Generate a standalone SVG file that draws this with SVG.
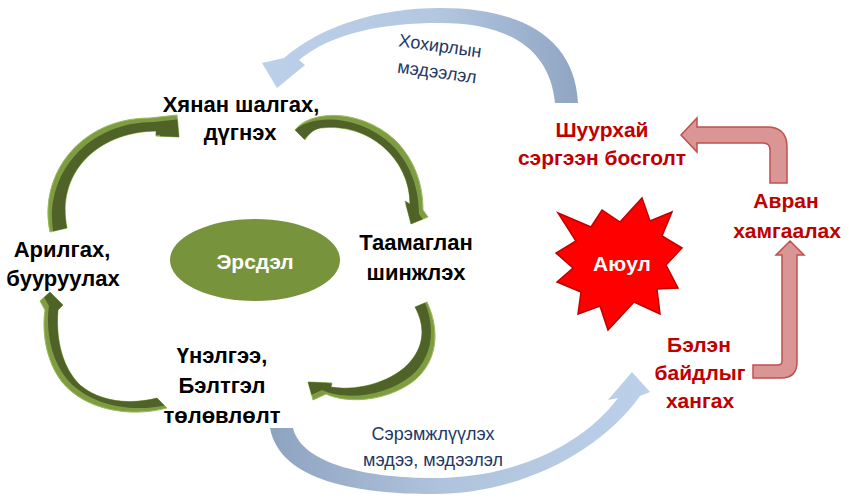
<svg xmlns="http://www.w3.org/2000/svg" width="849" height="500" viewBox="0 0 849 500">
<defs>
<linearGradient id="blueTop" x1="0" y1="0" x2="1" y2="0">
<stop offset="0" stop-color="#BCD0EA"/>
<stop offset="0.55" stop-color="#B3C7E0"/>
<stop offset="1" stop-color="#8FA5C2"/>
</linearGradient>
<linearGradient id="blueBot" x1="0" y1="0" x2="1" y2="0">
<stop offset="0" stop-color="#8EA3C0"/>
<stop offset="0.45" stop-color="#AFC3DC"/>
<stop offset="1" stop-color="#BCD0EA"/>
</linearGradient>
<path id="g1" d="M50,232 C38,175 80,118 150,118 L177,115 L179,137 L156,136 L156,131 C95,132 56,175 67,228 Z"/>
<path id="g2" d="M295,130 C310,110 360,108 395,140 C415,160 423,185 423,210 L428,217 L411,224 L405,201 L410,204 C410,160 370,122 320,128 C312,130 308,135 305,140 Z"/>
<path id="g3" d="M415,307 L427,302 C440,330 438,360 415,380 C390,400 350,405 326,394 L313,400 L308,382 L332,383 L331,387 C360,392 395,380 410,362 C425,345 425,325 415,307 Z"/>
<path id="g4" d="M157,398 L167,408 C130,418 85,410 62,382 C45,360 42,330 45,310 L40,301 L50,292 L63,305 L58,310 C56,335 60,365 80,385 C100,402 130,405 157,398 Z"/>
<clipPath id="c1"><use href="#g1"/></clipPath>
<clipPath id="c2"><use href="#g2"/></clipPath>
<clipPath id="c3"><use href="#g3"/></clipPath>
<clipPath id="c4"><use href="#g4"/></clipPath>
<style>
.blk{font-family:"Liberation Sans",Arial,sans-serif;font-weight:bold;font-size:22px;fill:#000;text-anchor:middle}
.red{font-family:"Liberation Sans",Arial,sans-serif;font-weight:bold;font-size:21px;fill:#C00000;text-anchor:middle}
.wht{font-family:"Liberation Sans",Arial,sans-serif;font-weight:bold;font-size:21px;fill:#fff;text-anchor:middle}
.blu{font-family:"Liberation Sans",Arial,sans-serif;font-size:18px;fill:#1F3864;text-anchor:middle}
.gl{fill:#7E9C42;stroke:#9BBB59;stroke-width:1;stroke-linejoin:round}
.gd{fill:#4F6228}
.redar{fill:#D99694;stroke:#C0504D;stroke-width:1.5;stroke-linejoin:miter}
</style>
</defs>
<rect width="849" height="500" fill="#fff"/>
<g id="connectors">
<path id="blue-top" fill="url(#blueTop)" d="M578,103 C575,40 525,8 440,8 C380,8 322,25 284,58 L262,63 L277,88 L305,65 L299,60 C332,33 382,23 440,23 C510,23 550,50 555,103 Z"/>
<path id="blue-bottom" fill="url(#blueBot)" d="M270,428 C280,482 360,494 433,494 C520,494 600,452 640,396 L650,392 L632,372 L608,400 L618,398 C585,442 520,478 433,478 C370,478 302,465 293,428 Z"/>
<g id="green-1"><use href="#g1" class="gl"/><g clip-path="url(#c1)"><use href="#g1" class="gd" transform="translate(4,4)"/></g></g>
<g id="green-2"><use href="#g2" class="gl"/><g clip-path="url(#c2)"><use href="#g2" class="gd" transform="translate(-4,4)"/></g></g>
<g id="green-3"><use href="#g3" class="gl"/><g clip-path="url(#c3)"><use href="#g3" class="gd" transform="translate(-4,-4)"/></g></g>
<g id="green-4"><use href="#g4" class="gl"/><g clip-path="url(#c4)"><use href="#g4" class="gd" transform="translate(4,-4)"/></g></g>
<path id="red-upper" class="redar" d="M697,127 L767,127 Q787,127 787,147 L787,183 L770,183 L770,150 Q770,143 763,143 L697,143 L697,152 L681,135 L697,118 Z"/>
<path id="red-lower" class="redar" d="M753,365 L778,365 Q782,365 782,361 L782,255 L776,255 L790,241 L804,255 L797,255 L797,362 Q797,378 781,378 L753,378 Z"/>
</g>
<g id="node-control">
<text class="blk" x="241" y="112">Хянан шалгах,</text>
<text class="blk" x="240" y="140">дүгнэх</text>
</g>
<g id="node-analysis">
<text class="blk" x="416" y="250">Таамаглан</text>
<text class="blk" x="416" y="280">шинжлэх</text>
</g>
<g id="node-eval">
<text class="blk" x="222" y="363">Үнэлгээ,</text>
<text class="blk" x="222" y="393">Бэлтгэл</text>
<text class="blk" x="222" y="423">төлөвлөлт</text>
</g>
<g id="node-reduce">
<text class="blk" x="62" y="257">Арилгах,</text>
<text class="blk" x="63" y="286">бууруулах</text>
</g>
<g id="node-risk">
<ellipse cx="255" cy="260" rx="85" ry="41" fill="#77933C"/>
<text class="wht" x="255" y="269">Эрсдэл</text>
</g>
<g id="node-hazard">
<polygon points="642,198 650,221 672,212 662,236 682,248 666,265 678,288 657,289 660,314 634,302 608,330 600,306 578,314 581,292 557,282 573,268 556,253 576,241 558,213 591,227 602,210 620,222" fill="#FF0000" stroke="#C00000" stroke-width="1.5"/>
<text class="wht" x="622" y="271">Аюул</text>
</g>
<g id="node-recovery">
<text class="red" x="602" y="137">Шуурхай</text>
<text class="red" x="602" y="165">сэргээн босголт</text>
</g>
<g id="node-rescue">
<text class="red" x="786" y="208">Авран</text>
<text class="red" x="787" y="238">хамгаалах</text>
</g>
<g id="node-ready">
<text class="red" x="699" y="352">Бэлэн</text>
<text class="red" x="700" y="380">байдлыг</text>
<text class="red" x="700" y="408">хангах</text>
</g>
<g id="label-damage">
<text class="blu" transform="rotate(8 440 47)" x="440" y="52">Хохирлын</text>
<text class="blu" transform="rotate(8 437 73)" x="437" y="78">мэдээлэл</text>
</g>
<g id="label-warning">
<text class="blu" x="433" y="440">Сэрэмжлүүлэх</text>
<text class="blu" x="433" y="466">мэдээ, мэдээлэл</text>
</g>
</svg>
